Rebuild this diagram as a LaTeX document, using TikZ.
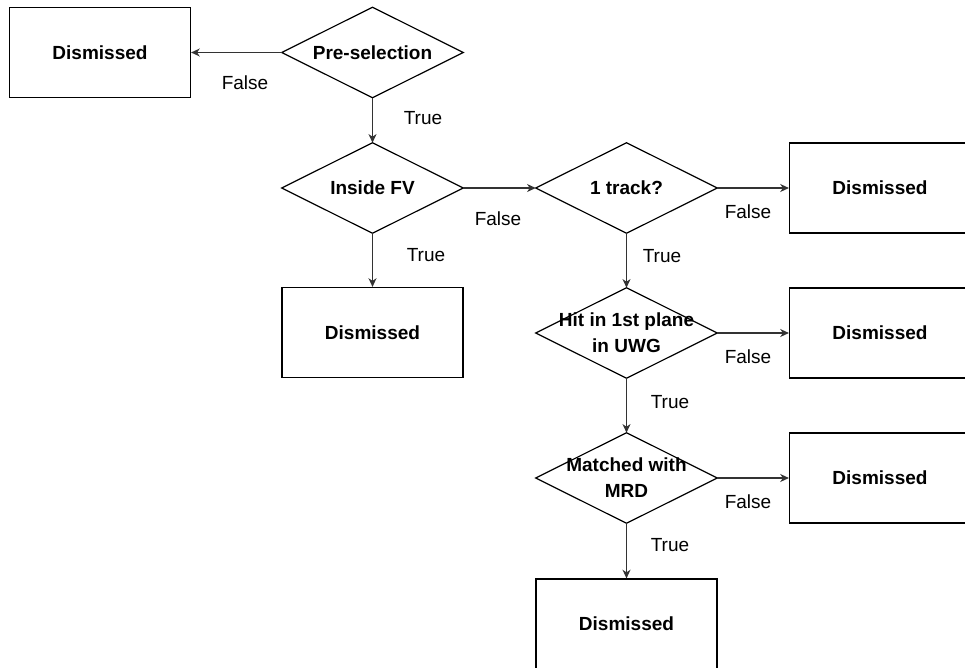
\documentclass[tikz,border=0pt]{standalone}
\usepackage{fontspec}
\setmainfont{Liberation Sans}
\usetikzlibrary{arrows.meta}
\begin{document}
\begin{tikzpicture}[x=0.75pt,y=-0.75pt,
  every node/.style={font=\fontsize{14.25}{16.5}\selectfont},
  boxnode/.style={draw=black, line width=0.9pt, minimum width=181*0.75pt, minimum height=90*0.75pt, inner sep=0pt, font=\fontsize{14.25}{16.5}\selectfont\bfseries},
  decnode/.style={minimum width=181*0.75pt, minimum height=90*0.75pt, inner sep=0pt, align=center, font=\fontsize{14.25}{16.5}\selectfont\bfseries},
  lbl/.style={inner sep=0pt},
  conn/.style={draw=black!80, line width=0.9pt, -{Stealth[length=6.5pt,width=6pt,inset=2pt]}}
]
\useasboundingbox (0,0) rectangle (965,668);
\clip (0,0) rectangle (965,668);
% boxes
\node[boxnode] (d0) at (100,52.5) {Dismissed};
\node[boxnode] (d1) at (372.5,332.5) {Dismissed};
\node[boxnode] (d2) at (880,188) {Dismissed};
\node[boxnode] (d3) at (880,333) {Dismissed};
\node[boxnode] (d4) at (880,478) {Dismissed};
\node[boxnode] (d5) at (626.5,624) {Dismissed};
% decisions
\node[decnode] (pre) at (372.5,52.5) {Pre-selection};
\node[decnode] (fv) at (372.5,188) {Inside FV};
\node[decnode] (trk) at (626.5,188) {1 track?};
\node[decnode] (hit) at (626.5,333) {Hit in 1st plane\\[3pt]in UWG};
\node[decnode] (mrd) at (626.5,478) {Matched with\\[3pt]MRD};
\foreach \n in {pre,fv,trk,hit,mrd}{
  \draw[line width=0.9pt] (\n.west) -- (\n.north) -- (\n.east) -- (\n.south) -- cycle;
}
% connectors
\draw[conn] (pre.west) -- (d0.east);
\draw[conn] (pre.south) -- (fv.north);
\draw[conn] (fv.south) -- (d1.north);
\draw[conn] (fv.east) -- (trk.west);
\draw[conn] (trk.east) -- (d2.west);
\draw[conn] (trk.south) -- (hit.north);
\draw[conn] (hit.east) -- (d3.west);
\draw[conn] (hit.south) -- (mrd.north);
\draw[conn] (mrd.east) -- (d4.west);
\draw[conn] (mrd.south) -- (d5.north);
% labels
\node[lbl] (l1) at (245,83) {False};
\node[lbl] (l2) at (423,118) {True};
\node[lbl] (l3) at (426,255) {True};
\node[lbl] (l4) at (498,219) {False};
\node[lbl] (l5) at (748,212) {False};
\node[lbl] (l6) at (662,256) {True};
\node[lbl] (l7) at (748,357) {False};
\node[lbl] (l8) at (670,402) {True};
\node[lbl] (l9) at (748,502) {False};
\node[lbl] (l10) at (670,545) {True};
\end{tikzpicture}
\end{document}
